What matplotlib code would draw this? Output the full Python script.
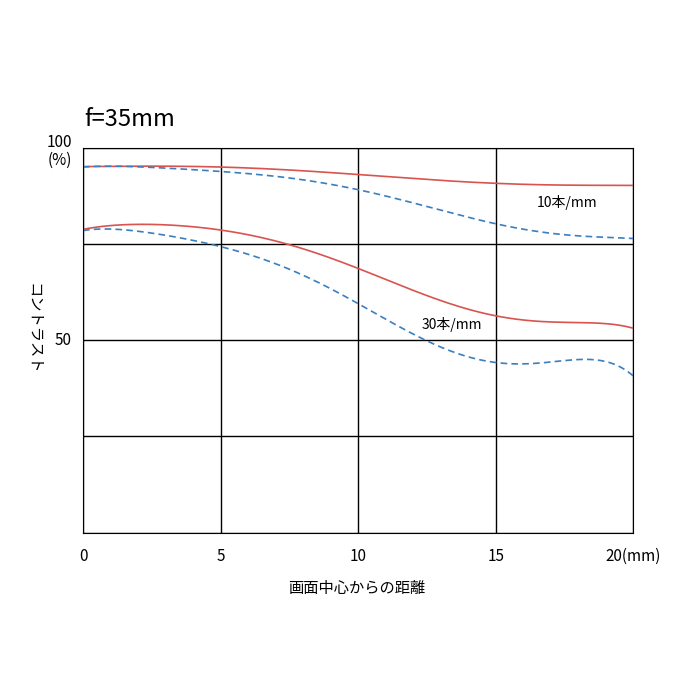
import matplotlib.pyplot as plt
import numpy as np

plt.rcParams['font.family'] = ['Noto Sans CJK JP', 'DejaVu Sans']

x = [0, 2.5, 5, 7.5, 10, 12.5, 15, 17.5, 20]
red_10 = [95.1, 95.2, 95.0, 94.2, 93.0, 91.8, 90.7, 90.3, 90.2]
blue_10 = [95.0, 94.8, 94.0, 92.0, 89.0, 85.0, 80.0, 77.5, 76.4]
red_30 = [78.8, 80.0, 78.8, 74.6, 68.7, 61.7, 56.2, 54.7, 53.1]
blue_30 = [78.5, 77.7, 74.6, 68.1, 59.6, 50.0, 44.0, 44.8, 40.7]

red = '#d9534f'
blue = '#3a7fc0'

fig = plt.figure(figsize=(7, 7), dpi=100)
ax = fig.add_axes([0.1186, 0.239, 0.786, 0.55])

xs = np.linspace(0, 20, 200)
def smooth(vals):
    return np.polyval(np.polyfit(x, vals, 6), xs)

ax.plot(xs, smooth(red_10), color=red, lw=1.2)
ax.plot(xs, smooth(blue_10), color=blue, lw=1.2, ls=(0, (4, 2.5)))
ax.plot(xs, smooth(red_30), color=red, lw=1.2)
ax.plot(xs, smooth(blue_30), color=blue, lw=1.2, ls=(0, (4, 2.5)))

ax.set_xlim(0, 20)
ax.set_ylim(0, 100)
ax.set_xticks([0, 5, 10, 15, 20])
ax.set_yticks([0, 25, 50, 75, 100])
ax.grid(True, color='black', lw=1)
ax.tick_params(length=0, labelleft=False, labelbottom=False)
for s in ax.spines.values():
    s.set_color('black')

for v, lab in zip([0, 5, 10, 15], ['0', '5', '10', '15']):
    ax.text(v, -4, lab, ha='center', va='top', fontsize=11)
ax.text(20, -4, '20(mm)', ha='center', va='top', fontsize=11)
ax.text(-0.4, 50, '50', ha='right', va='center', fontsize=11)
ax.text(-0.4, 99, '100\n(%)', ha='right', va='center', fontsize=11, linespacing=1.1)

ax.text(16.5, 84.5, '10本/mm', fontsize=10)
ax.text(12.3, 53, '30本/mm', fontsize=10)

fig.text(0.12, 0.82, 'f=35mm', fontsize=17)
fig.text(0.048, 0.53, 'コントラスト', rotation=-90, ha='center', va='center', fontsize=11)
fig.text(0.51, 0.16, '画面中心からの距離', ha='center', va='center', fontsize=11)

fig.savefig('out.png')
